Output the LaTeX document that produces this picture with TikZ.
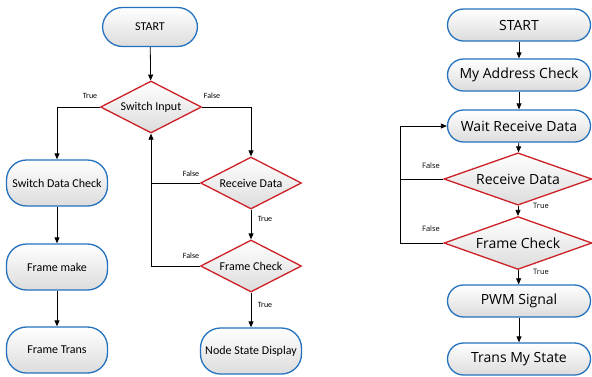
\documentclass[tikz,border=0pt]{standalone}
\usepackage{fontspec}
\setmainfont{Carlito}
\newfontfamily\rightfont{Open Sans}
\usetikzlibrary{shapes,arrows.meta,positioning,calc,shapes.geometric}
\definecolor{fcblue}{RGB}{36,114,190}
\definecolor{fcred}{RGB}{204,32,38}
\definecolor{fcgray}{RGB}{220,220,220}

\begin{document}
\begin{tikzpicture}[x=1pt, y=-1pt,
  term/.style={rectangle, rounded corners=20pt, draw=fcblue, line width=1.3pt,
    top color=white, bottom color=fcgray, minimum width=101pt, minimum height=46pt,
    font=\fontsize{12}{14}\selectfont},
  test/.style={diamond, aspect=2, draw=fcred, line width=1.3pt, inner sep=0pt,
    top color=white, bottom color=fcgray, minimum width=101pt, minimum height=52pt,
    font=\fontsize{12}{14}\selectfont},
  rterm/.style={term, rounded corners=16pt, minimum width=143pt, minimum height=32pt,
    font=\rightfont\fontsize{14}{16}\selectfont},
  rtest/.style={test, minimum width=148pt, minimum height=44pt,
    font=\rightfont\fontsize{14}{16}\selectfont},
  lbl/.style={font=\fontsize{8}{9}\selectfont},
  rlbl/.style={font=\rightfont\fontsize{7.5}{9}\selectfont},
  arr/.style={-{Triangle[length=6pt,width=5pt]}, line width=0.8pt}
]
  \useasboundingbox (0,0) rectangle (592,376);

  % left flowchart
  \node[term, minimum width=95pt, minimum height=39pt] (start) at (150,27) {START};
  \node[test] (swin) at (151,107) {Switch Input};
  \node[term] (swcheck) at (57,183) {Switch Data Check};
  \node[term] (fmake) at (57,267) {Frame make};
  \node[term] (ftrans) at (57,350) {Frame Trans};
  \node[test] (recv) at (251,183) {Receive Data};
  \node[test] (fcheck) at (251,266) {Frame Check};
  \node[term] (nsdisp) at (251,351) {Node State Display};

  \draw[arr] (start) -- (swin);
  \draw[arr] (swin.west) -| (swcheck.north);
  \draw[arr] (swin.east) -| (recv.north);
  \draw[arr] (swcheck) -- (fmake);
  \draw[arr] (fmake) -- (ftrans);
  \draw[arr] (recv) -- (fcheck);
  \draw[arr] (fcheck) -- (nsdisp);
  \draw[line width=0.8pt] (recv.west) -- (recv.west -| swin.south);
  \draw[arr] (fcheck.west) -| (swin.south);

  % labels
  \node[lbl] (t1) at (90,96) {True};
  \node[lbl] (f1) at (212,96) {False};
  \node[lbl] (f2) at (191,174) {False};
  \node[lbl] (f3) at (191,256) {False};
  \node[lbl] (t2) at (265,219) {True};
  \node[lbl] (t3) at (265,305) {True};

  % right flowchart
  \node[rterm] (rstart) at (519,25) {START};
  \node[rterm] (addr) at (519,75) {My Address Check};
  \node[rterm] (wait) at (519,126) {Wait Receive Data};
  \node[rtest] (rrecv) at (518,179) {Receive Data};
  \node[rtest] (rfcheck) at (518,243) {Frame Check};
  \node[rterm] (pwm) at (519,301) {PWM Signal};
  \node[rterm] (tstate) at (519,359) {Trans My State};
  \coordinate (loop) at (400,126);

  \draw[arr] (rstart) -- (addr);
  \draw[arr] (addr) -- (wait);
  \draw[arr] (wait) -- (rrecv);
  \draw[arr] (rrecv) -- (rfcheck);
  \draw[arr] (rfcheck) -- (pwm);
  \draw[arr] (pwm) -- (tstate);
  \draw[line width=0.8pt] (rrecv.west) -- (rrecv.west -| loop);
  \draw[arr] (rfcheck.west) -| (loop) -- (wait.west);

  \node[rlbl] (rf1) at (431,166) {False};
  \node[rlbl] (rf2) at (431,229) {False};
  \node[rlbl] (rt1) at (541,206) {True};
  \node[rlbl] (rt2) at (541,272) {True};
\end{tikzpicture}
\end{document}
